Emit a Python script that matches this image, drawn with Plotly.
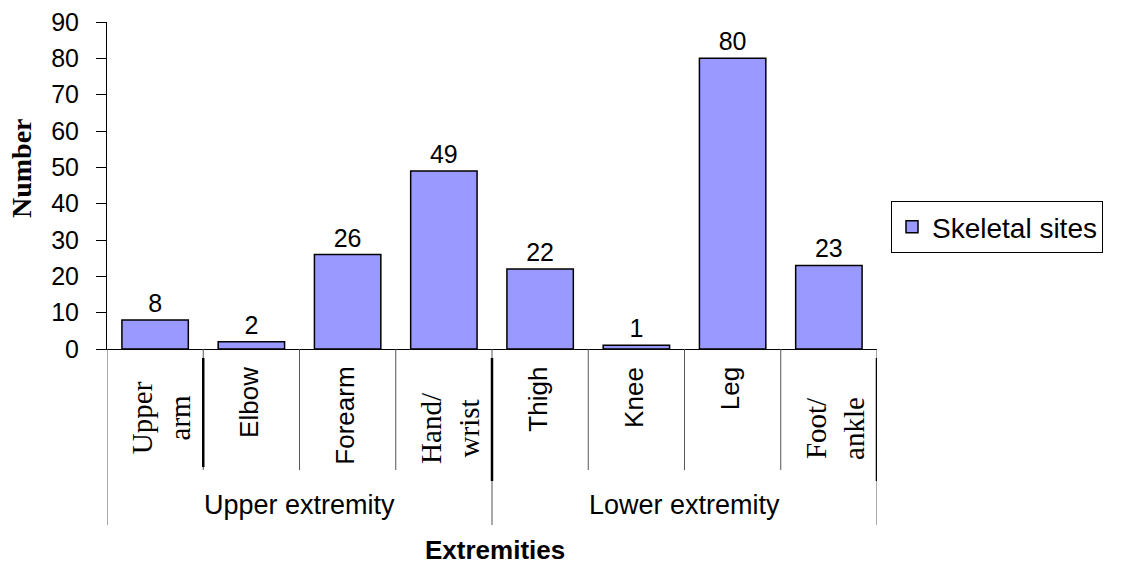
import plotly.graph_objects as go

# Skeletal sites by extremity
sites = ["Upper arm", "Elbow", "Forearm", "Hand/wrist", "Thigh", "Knee", "Leg", "Foot/ankle"]
site_labels = ["Upper<br>arm", "Elbow", "Forearm", "Hand/<br>wrist", "Thigh", "Knee", "Leg", "Foot/<br>ankle"]
counts = [8, 2, 26, 49, 22, 1, 80, 23]
groups = ["Upper extremity", "Lower extremity"]
group_sizes = [4, 4]
y_ticks = [0, 10, 20, 30, 40, 50, 60, 70, 80, 90]

SANS = "Liberation Sans, Arial, sans-serif"
SERIF = "Liberation Serif, Times New Roman, serif"

fig = go.Figure()
fig.add_trace(go.Bar(
    x=sites, y=counts, name="Skeletal sites",
    marker=dict(color="#9999FF", line=dict(color="black", width=1.5)),
    text=counts, textposition="outside", cliponaxis=False,
    textfont=dict(family=SANS, size=25, color="black"),
))

# paper-y helper: plot area spans 22..349 px vertically
def py(px):
    return (349 - px) / 327.0

shapes = []
annotations = []

# category separators under the axis
boundaries = [i - 0.5 for i in range(len(sites) + 1)]
group_edges = {-0.5}
acc = -0.5
for n in group_sizes:
    acc += n
    group_edges.add(acc)
for b in boundaries:
    bottom = py(525) if b in group_edges else py(470)
    shapes.append(dict(type="line", xref="x", yref="paper", x0=b, x1=b,
                       y0=0, y1=bottom, line=dict(color="#555555", width=1)))

# category labels, rotated
for i, (s, lab) in enumerate(zip(sites, site_labels)):
    serif = "<br>" in lab
    if serif:
        center = 418 if i == 0 else 428
        annotations.append(dict(x=i, y=py(center), xref="x", yref="paper", text=lab,
                                textangle=-90, showarrow=False, xanchor="center",
                                yanchor="middle", xshift=6,
                                font=dict(family=SERIF, size=29, color="black")))
        # heavier divider to the right of serif labels
        shapes.append(dict(type="line", xref="x", yref="paper", x0=i + 0.5, x1=i + 0.5,
                           y0=py(358), y1=py(467 if i == 0 else 481),
                           line=dict(color="black", width=2.5)))
    else:
        annotations.append(dict(x=i, y=py(365), xref="x", yref="paper", text=lab,
                                textangle=-90, showarrow=False, xanchor="center",
                                yanchor="top", xshift=-3,
                                font=dict(family=SANS, size=26, color="black")))

# group labels
start = 0
for g, n in zip(groups, group_sizes):
    annotations.append(dict(x=start + (n - 1) / 2, y=py(505), xref="x", yref="paper",
                            text=g, showarrow=False, xanchor="center", yanchor="middle",
                            font=dict(family=SANS, size=27, color="black")))
    start += n

# axis titles
annotations.append(dict(x=(495 - 107) / 770, y=py(550), xref="paper", yref="paper",
                        text="<b>Extremities</b>", showarrow=False,
                        xanchor="center", yanchor="middle",
                        font=dict(family=SANS, size=26, color="black")))
annotations.append(dict(x=(22 - 107) / 770, y=py(168), xref="paper", yref="paper",
                        text="<b>Number</b>", textangle=-90, showarrow=False,
                        xanchor="center", yanchor="middle",
                        font=dict(family=SERIF, size=28, color="black")))

fig.update_layout(
    width=1143, height=565,
    margin=dict(l=107, r=266, t=22, b=216, autoexpand=False),
    plot_bgcolor="white", paper_bgcolor="white",
    bargap=0.31,
    showlegend=True,
    legend=dict(x=(891 - 107) / 770, y=py(227), xanchor="left", yanchor="middle",
                bordercolor="black", borderwidth=1, bgcolor="white",
                font=dict(family=SANS, size=28, color="black")),
    shapes=shapes,
    annotations=annotations,
)
fig.update_xaxes(showticklabels=False, showline=True, linecolor="black", linewidth=1,
                 ticks="", showgrid=False, zeroline=False, automargin=False,
                 range=[-0.5, len(sites) - 0.5])
fig.update_yaxes(range=[0, 90], tickvals=y_ticks, ticks="outside", ticklen=10,
                 tickcolor="black", showline=True, linecolor="black", linewidth=1,
                 showgrid=False, zeroline=False, ticklabelstandoff=12, automargin=False,
                 tickfont=dict(family=SANS, size=25, color="black"))

fig.write_html("out.html")
